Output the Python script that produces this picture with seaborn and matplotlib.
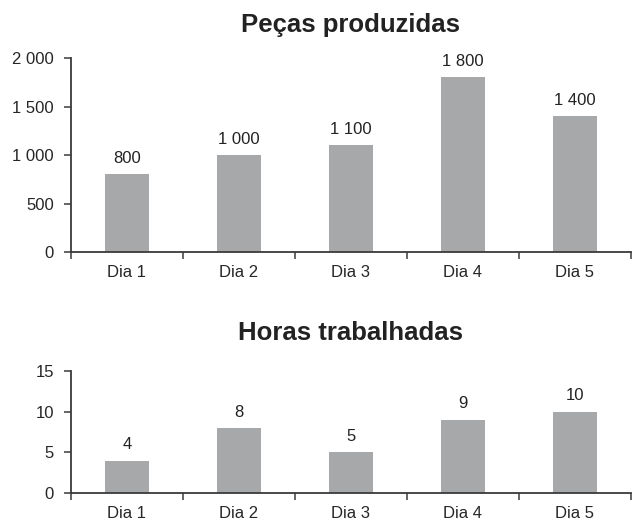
import numpy as np
import pandas as pd
import matplotlib
matplotlib.use("Agg")
import matplotlib.pyplot as plt
import seaborn as sns

DAYS = ["Dia 1", "Dia 2", "Dia 3", "Dia 4", "Dia 5"]
PIECES = [800, 1000, 1100, 1800, 1400]
HOURS = [4, 8, 5, 9, 10]
PIECES_TICKS = [0, 500, 1000, 1500, 2000]
HOURS_TICKS = [0, 5, 10, 15]

BAR_COLOR = "#a7a8aa"
AXIS_COLOR = "#3a3a3a"

sns.set_style("ticks")
plt.rcParams["font.family"] = ["Liberation Sans", "DejaVu Sans"]
plt.rcParams["text.color"] = "#222222"


def fmt(v):
    return f"{v:,}".replace(",", " ")


def draw(ax, values, yticks, title, title_pad):
    df = pd.DataFrame({"dia": DAYS, "valor": values})
    sns.barplot(data=df, x="dia", y="valor", color=BAR_COLOR, width=0.39,
                saturation=1, ax=ax)
    for p in ax.patches:
        p.set_edgecolor("none")
    ax.bar_label(ax.containers[0], labels=[fmt(v) for v in values],
                 padding=6, fontsize=12, color="#222222")
    ax.set_xlim(-0.5, len(DAYS) - 0.5)
    ax.set_ylim(yticks[0], yticks[-1])
    ax.set_yticks(yticks)
    ax.set_yticklabels([fmt(t) for t in yticks], fontsize=12)
    # ticks sit between categories, labels centred under bars
    ax.set_xticks(np.arange(-0.5, len(DAYS), 1))
    ax.set_xticklabels([])
    ax.set_xticks(range(len(DAYS)), minor=True)
    ax.set_xticklabels(DAYS, minor=True, fontsize=12)
    ax.tick_params(axis="x", which="minor", length=0, pad=9)
    ax.tick_params(axis="x", which="major", length=5, width=1.1, color=AXIS_COLOR)
    ax.tick_params(axis="y", length=5, width=1.1, color=AXIS_COLOR, pad=7)
    ax.set_xlabel("")
    ax.set_ylabel("")
    sns.despine(ax=ax)
    for side in ("left", "bottom"):
        ax.spines[side].set_color(AXIS_COLOR)
        ax.spines[side].set_linewidth(1.3)
    ax.set_title(title, fontsize=18.5, fontweight="bold", pad=title_pad)


fig = plt.figure(figsize=(6.32, 5.23), dpi=100)
ax_top = fig.add_axes([0.112, 0.518, 0.886, 0.371])
ax_bot = fig.add_axes([0.112, 0.057, 0.886, 0.234])

draw(ax_top, PIECES, PIECES_TICKS, "Peças produzidas", 19)
draw(ax_bot, HOURS, HOURS_TICKS, "Horas trabalhadas", 22)

fig.savefig("out.png", dpi=100)
